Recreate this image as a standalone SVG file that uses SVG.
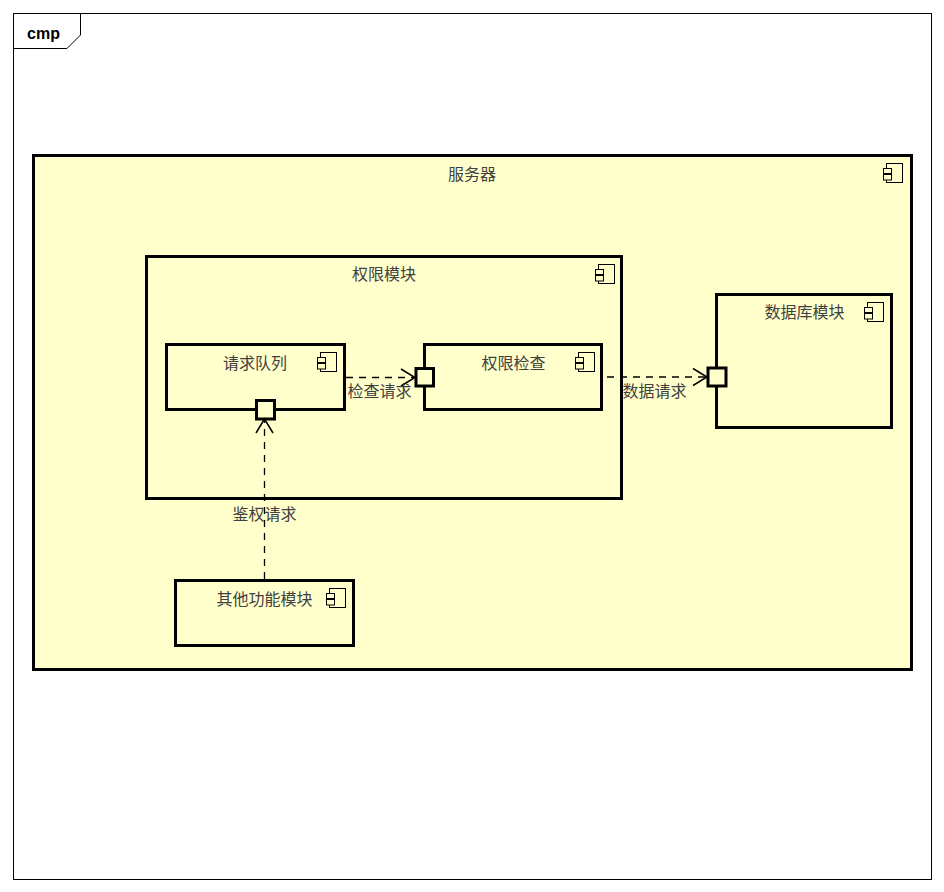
<svg xmlns="http://www.w3.org/2000/svg" width="944" height="892" viewBox="0 0 944 892">
<style>
.box{fill:#ffffcc;stroke:#000;stroke-width:3}
.port{fill:#ffffcc;stroke:#000;stroke-width:3}
.ic{fill:#ffffcc;stroke:#000;stroke-width:1}
.t{font-family:"Noto Sans CJK SC","Liberation Sans",sans-serif;font-size:16px;fill:#404040;text-anchor:middle}
.dash{fill:none;stroke:#000;stroke-width:1.3;stroke-dasharray:7 6}
.head{fill:none;stroke:#000;stroke-width:1.5}
</style>
<defs>
<g id="icon">
<rect class="ic" x="3.5" y="0.5" width="16" height="19"/>
<rect class="ic" x="0.5" y="5.500" width="8" height="5"/>
<rect class="ic" x="0.5" y="11.500" width="8" height="5.500"/>
</g>
</defs>
<rect width="944" height="892" fill="#fff"/>
<g id="frame">
<rect x="13.5" y="13.5" width="918" height="866" fill="#fff" stroke="#000" stroke-width="1"/>
<path d="M13.5 48.5H67L80.5 35V13.5" fill="none" stroke="#000" stroke-width="1"/>
<text x="43.500" y="39" font-family="'Liberation Sans',Arial,sans-serif" font-size="16" font-weight="bold" text-anchor="middle" fill="#000">cmp</text>
</g>
<g id="server">
<rect class="box" x="33.500" y="155.500" width="878" height="514"/>
<text class="t" x="472" y="180">服务器</text>
<use href="#icon" x="883" y="163"/>
</g>
<g id="auth">
<rect class="box" x="146.500" y="256.500" width="475" height="242"/>
<text class="t" x="384" y="280">权限模块</text>
<use href="#icon" x="595" y="264"/>
</g>
<g id="queue">
<rect class="box" x="166.500" y="344.500" width="178" height="65"/>
<text class="t" x="255" y="369">请求队列</text>
<use href="#icon" x="317" y="352"/>
<rect class="port" x="256.500" y="400.500" width="18" height="18.500"/>
</g>
<g id="check">
<rect class="box" x="424.500" y="344.500" width="177" height="65"/>
<text class="t" x="513.500" y="369">权限检查</text>
<use href="#icon" x="575" y="352"/>
<rect class="port" x="416" y="368.500" width="17.500" height="17.500"/>
</g>
<g id="db">
<rect class="box" x="716.500" y="294.500" width="175" height="133"/>
<text class="t" x="804.500" y="318">数据库模块</text>
<use href="#icon" x="864" y="302"/>
<rect class="port" x="708" y="368" width="18" height="18"/>
</g>
<g id="other">
<rect class="box" x="175.500" y="580.500" width="178" height="65"/>
<text class="t" x="264.500" y="605">其他功能模块</text>
<use href="#icon" x="326" y="588"/>
</g>
<g id="connectors">
<path class="dash" d="M346 377.500H414"/>
<path class="head" d="M401 369L415 377.500L401 386"/>
<path class="dash" d="M607 377H706"/>
<path class="head" d="M693 368.500L707 377L693 385.500"/>
<path class="dash" d="M264.500 579V420"/>
<path class="head" d="M256 433L264.500 419L273 433"/>
<text class="t" x="379.500" y="397">检查请求</text>
<text class="t" x="654.500" y="397">数据请求</text>
<text class="t" x="264.500" y="520">鉴权请求</text>
</g>
</svg>
